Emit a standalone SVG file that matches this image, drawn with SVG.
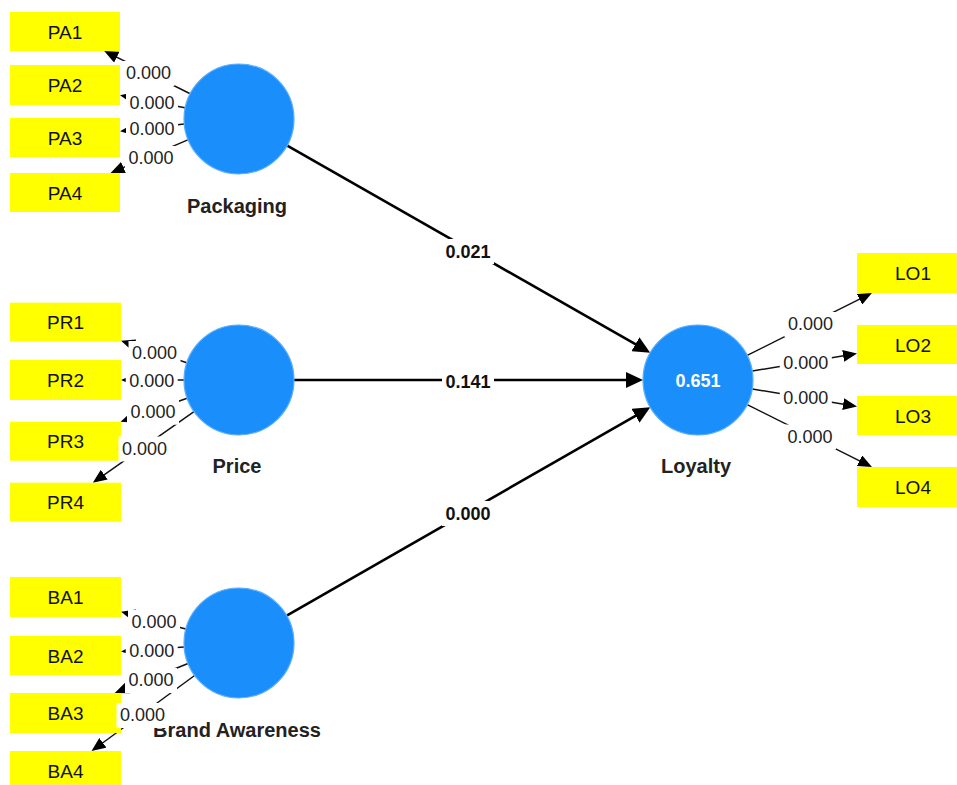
<svg xmlns="http://www.w3.org/2000/svg" width="957" height="785" viewBox="0 0 957 785">
  <style>
    .ind { fill: #ffff00; }
    .ind-t { font: 19px "Liberation Sans", Arial, sans-serif; fill: #111; text-anchor: middle; }
    .lv { fill: #1a8ffc; stroke: #5aaefc; stroke-width: 1.2; }
    .lv-t { font: bold 20px "Liberation Sans", Arial, sans-serif; fill: #222; text-anchor: middle; }
    .r2 { font: bold 18px "Liberation Sans", Arial, sans-serif; fill: #fff; text-anchor: middle; }
    .path { stroke: #000; stroke-width: 2.6; fill: none; marker-end: url(#bigArrow); }
    .load { stroke: #111; stroke-width: 1.5; fill: none; marker-end: url(#smallArrow); }
    .bg { fill: #fff; }
    .coef { font: bold 18px "Liberation Sans", Arial, sans-serif; fill: #111; text-anchor: middle; }
    .w { font: 18px "Liberation Sans", Arial, sans-serif; fill: #222; text-anchor: middle; }
  </style>
  <defs>
    <marker id="bigArrow" markerUnits="userSpaceOnUse" markerWidth="17" markerHeight="16" refX="7" refY="8" orient="auto">
      <path d="M0,0 L17,8 L0,16 z" fill="#000"/>
    </marker>
    <marker id="smallArrow" markerUnits="userSpaceOnUse" markerWidth="14" markerHeight="12" refX="8" refY="6" orient="auto">
      <path d="M0,0 L14,6 L0,12 z" fill="#000"/>
    </marker>
  </defs>

  <rect width="957" height="785" fill="#fff"/>

  <!-- connectors: structural paths and outer loadings -->
  <g id="connectors">
    <line class="path" x1="286.8" y1="145.3" x2="641.5" y2="347.7"/>
    <line class="path" x1="294" y1="380" x2="633" y2="380"/>
    <line class="path" x1="286.7" y1="615.7" x2="641.6" y2="412.3"/>

    <line class="load" x1="189.7" y1="93.5" x2="109.6" y2="53.7"/>
    <line class="load" x1="185" y1="107.8" x2="125.9" y2="96.5"/>
    <line class="load" x1="184.3" y1="124.1" x2="126" y2="130.6"/>
    <line class="load" x1="188.4" y1="139.6" x2="116.1" y2="170.6"/>

    <line class="load" x1="186.8" y1="362.7" x2="126.7" y2="342.7"/>
    <line class="load" x1="184" y1="380" x2="127" y2="380"/>
    <line class="load" x1="187.1" y1="398.3" x2="126.2" y2="419.7"/>
    <line class="load" x1="194" y1="411.6" x2="97.7" y2="479.3"/>

    <line class="load" x1="185.8" y1="628.9" x2="126.8" y2="613.3"/>
    <line class="load" x1="184.1" y1="646.9" x2="127" y2="651.1"/>
    <line class="load" x1="188" y1="663.5" x2="120.3" y2="690.8"/>
    <line class="load" x1="194.6" y1="675.5" x2="96.4" y2="747.5"/>

    <line class="load" x1="747.2" y1="355.4" x2="866.6" y2="295.7"/>
    <line class="load" x1="752.3" y1="371" x2="851.1" y2="354.6"/>
    <line class="load" x1="752.3" y1="389" x2="851.1" y2="405.4"/>
    <line class="load" x1="747.2" y1="404.6" x2="866.6" y2="464.3"/>
  </g>

  <!-- indicators -->
  <g id="PA1"><rect class="ind" x="10" y="12" width="110" height="39"/><text class="ind-t" x="65" y="38.5">PA1</text></g>
  <g id="PA2"><rect class="ind" x="10" y="65" width="110" height="40"/><text class="ind-t" x="65" y="92">PA2</text></g>
  <g id="PA3"><rect class="ind" x="10" y="118" width="110" height="39"/><text class="ind-t" x="65" y="144.5">PA3</text></g>
  <g id="PA4"><rect class="ind" x="10" y="173" width="110" height="39"/><text class="ind-t" x="65" y="199.5">PA4</text></g>

  <g id="PR1"><rect class="ind" x="10" y="302.7" width="111" height="39"/><text class="ind-t" x="65.5" y="329">PR1</text></g>
  <g id="PR2"><rect class="ind" x="10" y="360" width="111" height="40"/><text class="ind-t" x="65.5" y="387">PR2</text></g>
  <g id="PR3"><rect class="ind" x="10" y="421.7" width="111" height="39"/><text class="ind-t" x="65.5" y="448">PR3</text></g>
  <g id="PR4"><rect class="ind" x="10" y="482.7" width="111" height="39"/><text class="ind-t" x="65.5" y="509">PR4</text></g>

  <g id="BA1"><rect class="ind" x="10" y="577" width="111" height="40"/><text class="ind-t" x="65.5" y="604">BA1</text></g>
  <g id="BA2"><rect class="ind" x="10" y="636" width="111" height="39"/><text class="ind-t" x="65.5" y="662.5">BA2</text></g>
  <g id="BA3"><rect class="ind" x="10" y="693" width="111" height="40"/><text class="ind-t" x="65.5" y="720">BA3</text></g>
  <g id="BA4"><rect class="ind" x="10" y="751" width="111" height="40"/><text class="ind-t" x="65.5" y="778">BA4</text></g>

  <g id="LO1"><rect class="ind" x="857" y="253" width="110" height="40"/><text class="ind-t" x="913" y="280">LO1</text></g>
  <g id="LO2"><rect class="ind" x="857" y="325" width="110" height="39"/><text class="ind-t" x="913" y="351.5">LO2</text></g>
  <g id="LO3"><rect class="ind" x="857" y="396" width="110" height="39"/><text class="ind-t" x="913" y="422.5">LO3</text></g>
  <g id="LO4"><rect class="ind" x="857" y="467" width="110" height="40"/><text class="ind-t" x="913" y="494">LO4</text></g>

  <!-- latent variables -->
  <g id="Packaging"><circle class="lv" cx="239" cy="119" r="55"/><text class="lv-t" x="237" y="213">Packaging</text></g>
  <g id="Price"><circle class="lv" cx="239" cy="380" r="55"/><text class="lv-t" x="237" y="473">Price</text></g>
  <g id="BrandAwareness"><circle class="lv" cx="239" cy="643" r="55"/><text class="lv-t" x="237" y="737">Brand Awareness</text></g>
  <g id="Loyalty"><circle class="lv" cx="698" cy="380" r="55"/><text class="r2" x="698" y="387">0.651</text><text class="lv-t" x="696" y="473">Loyalty</text></g>

  <!-- path coefficients -->
  <g id="coefficients">
    <rect class="bg" x="442" y="239" width="52" height="25"/><text class="coef" x="468" y="257.5">0.021</text>
    <rect class="bg" x="442" y="369.5" width="52" height="25"/><text class="coef" x="468" y="388">0.141</text>
    <rect class="bg" x="442" y="501" width="52" height="25"/><text class="coef" x="468" y="519.5">0.000</text>
  </g>

  <!-- outer loading weights -->
  <g id="loadings">
    <rect class="bg" x="122.5" y="61" width="52" height="25"/><text class="w" x="148.5" y="79">0.000</text>
    <rect class="bg" x="126" y="91" width="52" height="25"/><text class="w" x="152" y="109">0.000</text>
    <rect class="bg" x="126" y="117" width="52" height="25"/><text class="w" x="152" y="135">0.000</text>
    <rect class="bg" x="125" y="146" width="52" height="25"/><text class="w" x="151" y="164">0.000</text>

    <rect class="bg" x="128.5" y="341" width="52" height="25"/><text class="w" x="154.5" y="359">0.000</text>
    <rect class="bg" x="125.7" y="369" width="52" height="25"/><text class="w" x="151.7" y="387">0.000</text>
    <rect class="bg" x="127" y="399.7" width="52" height="25"/><text class="w" x="153" y="417.7">0.000</text>
    <rect class="bg" x="118.5" y="436.5" width="52" height="25"/><text class="w" x="144.5" y="454.5">0.000</text>

    <rect class="bg" x="128" y="610" width="52" height="25"/><text class="w" x="154" y="628">0.000</text>
    <rect class="bg" x="125.7" y="638.8" width="52" height="25"/><text class="w" x="151.7" y="656.8">0.000</text>
    <rect class="bg" x="125" y="668" width="52" height="25"/><text class="w" x="151" y="686">0.000</text>
    <rect class="bg" x="116.5" y="703" width="52" height="25"/><text class="w" x="142.5" y="721">0.000</text>

    <rect class="bg" x="784.5" y="312" width="52" height="25"/><text class="w" x="810.5" y="330">0.000</text>
    <rect class="bg" x="779.8" y="351.3" width="52" height="25"/><text class="w" x="805.8" y="369.3">0.000</text>
    <rect class="bg" x="779.8" y="386.3" width="52" height="25"/><text class="w" x="805.8" y="404.3">0.000</text>
    <rect class="bg" x="784" y="424.5" width="52" height="25"/><text class="w" x="810" y="442.5">0.000</text>
  </g>
</svg>
